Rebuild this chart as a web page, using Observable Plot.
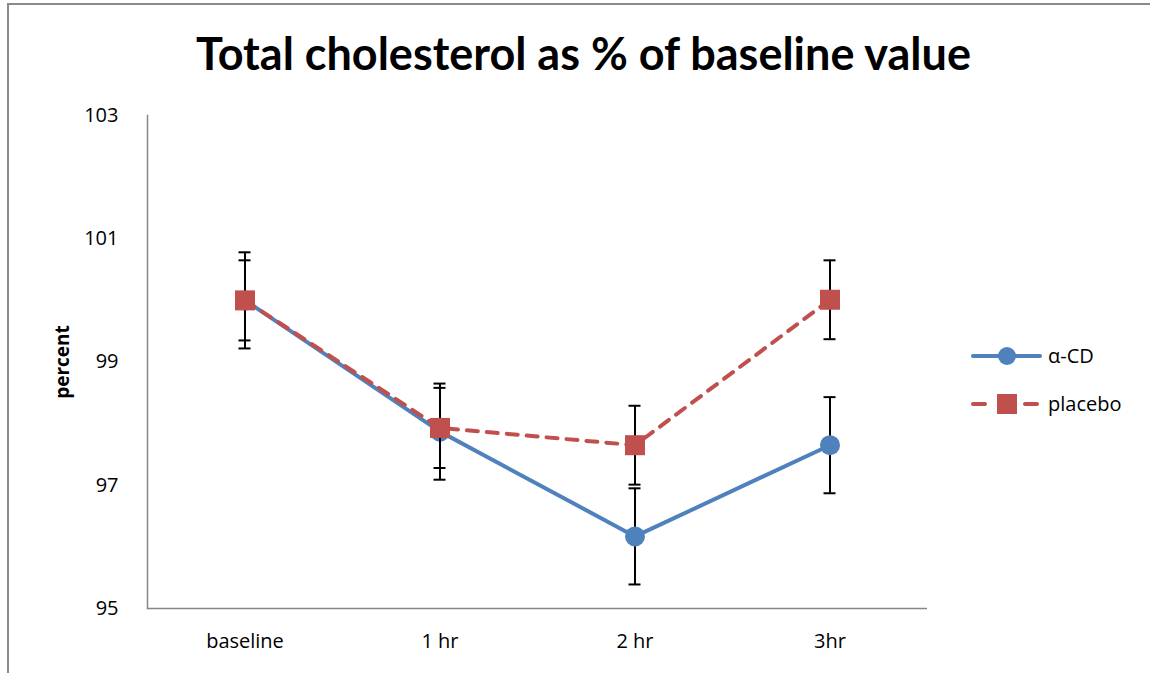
<!DOCTYPE html>
<html>
<head>
<meta charset="utf-8">
<script src="https://cdn.jsdelivr.net/npm/d3@7"></script>
<script src="https://cdn.jsdelivr.net/npm/@observablehq/plot@0.6"></script>
<style>
  html, body { margin: 0; padding: 0; background: #fff; }
  #wrap { position: relative; width: 1150px; height: 673px; overflow: hidden; font-family: "Open Sans", Lato, sans-serif; }
  #wrap > svg { position: absolute; left: 0; top: 0; }
  #border { position: absolute; left: 7px; top: 3px; width: 1160px; height: 700px; border-top: 2px solid #8a8a8a; border-left: 2px solid #8a8a8a; box-sizing: border-box; }
  #title { position: absolute; left: 0; top: 26px; width: 1167px; text-align: center; font-family: Lato, "Open Sans", sans-serif; font-weight: bold; font-size: 45px; line-height: 54px; color: #000; white-space: nowrap; }
</style>
</head>
<body>
<div id="wrap">
  <div id="border"></div>
  <div id="title">Total cholesterol as % of baseline value</div>
</div>
<script>
const categories = ["baseline", "1 hr", "2 hr", "3hr"];
const alphaCD = [100, 97.87, 96.17, 97.65];
const alphaErr = [0.78, 0.78, 0.78, 0.78];
const placebo = [100, 97.93, 97.65, 100.01];
const placeboErr = [0.65, 0.65, 0.64, 0.64];
const yTicks = [95, 97, 99, 101, 103];
const yDomain = [95, 103];
const seriesNames = ["α-CD", "placebo"];
const seriesColors = ["#4F81BD", "#C0504D"];
const yLabel = "percent";

function rowsFor(name, values, errs) {
  return categories.map((c, i) => ({series: name, cat: c, value: values[i], lo: values[i] - errs[i], hi: values[i] + errs[i]}));
}
const aRows = rowsFor(seriesNames[0], alphaCD, alphaErr);
const pRows = rowsFor(seriesNames[1], placebo, placeboErr);

const bandW = 195, capW = 12, capInset = (bandW - capW) / 2;
function errMarks(rows) {
  return [
    Plot.ruleX(rows, {x: "cat", y1: "lo", y2: "hi", stroke: "#000", strokeWidth: 2}),
    Plot.tickY(rows, {x: "cat", y: "lo", stroke: "#000", strokeWidth: 2, insetLeft: capInset, insetRight: capInset}),
    Plot.tickY(rows, {x: "cat", y: "hi", stroke: "#000", strokeWidth: 2, insetLeft: capInset, insetRight: capInset})
  ];
}

const chart = Plot.plot({
  width: 1150,
  height: 673,
  marginLeft: 147,
  marginRight: 223,
  marginTop: 115,
  marginBottom: 65,
  style: {fontFamily: "'Open Sans', Lato, sans-serif", fontSize: "20px", color: "#000", background: "transparent", overflow: "visible"},
  x: {type: "band", domain: categories, padding: 0, label: null, tickSize: 0, tickPadding: 25},
  y: {domain: yDomain, ticks: yTicks, tickSize: 0, tickPadding: 29, label: null},
  marks: [
    Plot.ruleY([yDomain[0]], {stroke: "#868686", strokeWidth: 1.5}),
    Plot.frame({anchor: "left", stroke: "#868686", strokeWidth: 1.5}),
    Plot.text([yLabel], {frameAnchor: "left", textAnchor: "middle", dx: -85, rotate: -90, fontWeight: "bold", fontSize: 19, fill: "#000"}),
    ...errMarks(aRows),
    Plot.line(aRows, {x: "cat", y: "value", stroke: seriesColors[0], strokeWidth: 4, strokeLinejoin: "round"}),
    Plot.dot(aRows, {x: "cat", y: "value", r: 10, fill: seriesColors[0], symbol: "circle"}),
    ...errMarks(pRows),
    Plot.line(pRows, {x: "cat", y: "value", stroke: seriesColors[1], strokeWidth: 4, strokeDasharray: "11,9", strokeLinecap: "round"}),
    Plot.dot(pRows, {x: "cat", y: "value", r: 11.3, fill: seriesColors[1], symbol: "square"})
  ]
});
document.getElementById("wrap").appendChild(chart);

// Legend
const leg = d3.select("#wrap").append("svg").attr("id", "legend").attr("width", 1150).attr("height", 673);
const legItems = [
  {name: seriesNames[0], color: seriesColors[0], y: 356, dash: null, sym: "circle"},
  {name: seriesNames[1], color: seriesColors[1], y: 404, dash: "12,14", sym: "square"}
];
legItems.forEach(d => {
  const g = leg.append("g");
  g.append("line").attr("x1", 973).attr("x2", 1040).attr("y1", d.y).attr("y2", d.y)
    .attr("stroke", d.color).attr("stroke-width", 4).attr("stroke-linecap", "round")
    .attr("stroke-dasharray", d.dash);
  if (d.sym === "circle") {
    g.append("circle").attr("cx", 1007).attr("cy", d.y).attr("r", 9).attr("fill", d.color);
  } else {
    g.append("rect").attr("x", 997).attr("y", d.y - 10).attr("width", 20).attr("height", 20).attr("fill", d.color);
  }
  g.append("text").attr("x", 1048).attr("y", d.y).attr("dy", "0.35em")
    .attr("font-family", "'Open Sans', Lato, sans-serif").attr("font-size", 20).attr("fill", "#000").text(d.name);
});
</script>
</body>
</html>
